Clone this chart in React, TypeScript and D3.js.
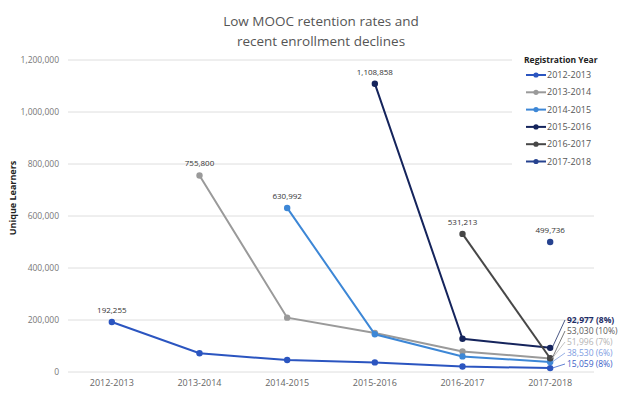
import React from 'react'
import * as d3 from 'd3'

// registration years (x axis) and cohort series
const years = ['2012-2013', '2013-2014', '2014-2015', '2015-2016', '2016-2017', '2017-2018']
const cohorts = ['2012-2013', '2013-2014', '2014-2015', '2015-2016', '2016-2017', '2017-2018']
const colors = ['#2b55c0', '#9a9a9a', '#3d87d6', '#15245c', '#474747', '#26428f']

const c2012 = [192255, 72000, 46000, 37000, 21000, 15059]
const c2013 = [755800, 209000, 150000, 79000, 51996]
const c2014 = [630992, 145000, 60000, 38530]
const c2015 = [1108858, 128000, 92977]
const c2016 = [531213, 53030]
const c2017 = [499736]
const seriesValues = [c2012, c2013, c2014, c2015, c2016, c2017]

const yTicks = [0, 200000, 400000, 600000, 800000, 1000000, 1200000]

// labels on the first point of each cohort, and the retention labels at the end
const startLabels = ['192,255', '755,800', '630,992', '1,108,858', '531,213', '499,736']
const endLabels = ['92,977 (8%)', '53,030 (10%)', '51,996 (7%)', '38,530 (6%)', '15,059 (8%)']
const endCohorts = [3, 4, 1, 2, 0]
const endColors = ['#1d2d66', '#5a5a5a', '#b4b4b4', '#7d9ddf', '#3a62c8']

const font = "'Open Sans', sans-serif"

export default function App() {
  const x = d3.scalePoint<string>().domain(years).range([68, 594]).padding(0.5)
  const y = d3.scaleLinear().domain([0, 1200000]).range([372, 60])
  const fmt = d3.format(',')

  const line = d3
    .line<[number, number]>()
    .x((d) => d[0])
    .y((d) => d[1])

  const pts = seriesValues.map((vals, i) =>
    vals.map((v, j) => [x(years[i + j]) as number, y(v)] as [number, number])
  )

  const lastX = x(years[5]) as number

  return (
    <svg width={640} height={399} style={{ position: 'absolute', left: 0, top: 0, background: '#fff' }} fontFamily={font}>
      <text x={321} y={26} textAnchor="middle" fontSize={13.5} fill="#555">Low MOOC retention rates and</text>
      <text x={321} y={46} textAnchor="middle" fontSize={13.5} fill="#555">recent enrollment declines</text>

      {yTicks.map((t) => (
        <g key={t}>
          <line x1={68} x2={594} y1={y(t)} y2={y(t)} stroke="#dedede" strokeWidth={1} />
          <text x={59} y={y(t) + 3} textAnchor="end" fontSize={8.5} fill="#777">{fmt(t)}</text>
        </g>
      ))}

      <text transform="translate(16,198) rotate(-90)" textAnchor="middle" fontSize={9} fontWeight="bold" fill="#222">Unique Learners</text>

      {years.map((yr) => (
        <text key={yr} x={x(yr)} y={386} textAnchor="middle" fontSize={9} fill="#666">{yr}</text>
      ))}

      {pts.map((p, i) => (
        <g key={cohorts[i]}>
          {p.length > 1 && <path d={line(p) || ''} fill="none" stroke={colors[i]} strokeWidth={2} />}
          {p.map((d, j) => (
            <circle key={j} cx={d[0]} cy={d[1]} r={3.2} fill={colors[i]} />
          ))}
          <text x={p[0][0]} y={p[0][1] - 9} textAnchor="middle" fontSize={8} fill="#333">{startLabels[i]}</text>
        </g>
      ))}

      {endLabels.map((lab, k) => {
        const vals = seriesValues[endCohorts[k]]
        const py = y(vals[vals.length - 1])
        const ly = 322 + k * 11
        return (
          <g key={lab}>
            <line x1={lastX + 2} y1={py} x2={565} y2={ly - 2} stroke={endColors[k]} strokeWidth={0.8} />
            <text x={567} y={ly + 1} fontSize={8.5} fontWeight={k === 0 ? 'bold' : 'normal'} fill={endColors[k]}>{lab}</text>
          </g>
        )
      })}

      <rect x={512} y={48} width={128} height={125} fill="#fff" />
      <text x={524} y={63} fontSize={8.5} fontWeight="bold" fill="#222">Registration Year</text>
      {cohorts.map((c, i) => {
        const ly = 75 + i * 17.3
        return (
          <g key={c}>
            <line x1={526} x2={546} y1={ly} y2={ly} stroke={colors[i]} strokeWidth={2} />
            <circle cx={536} cy={ly} r={2.6} fill={colors[i]} />
            <text x={547} y={ly + 3} fontSize={9} fill="#555">{c}</text>
          </g>
        )
      })}
    </svg>
  )
}
